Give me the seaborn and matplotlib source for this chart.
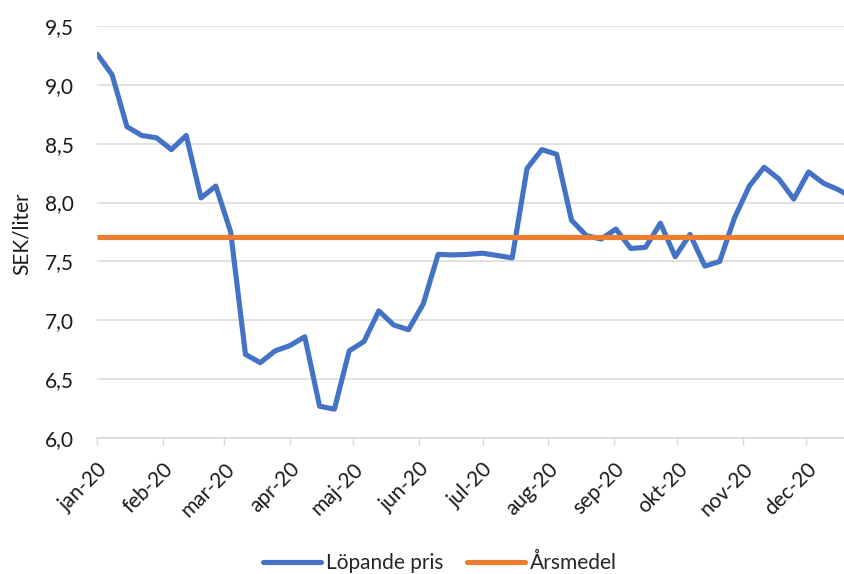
import matplotlib
matplotlib.use("Agg")
import matplotlib.pyplot as plt
import matplotlib.dates as mdates
import seaborn as sns
import pandas as pd
import numpy as np

# ---- data ----
start_date = "2020-01-01"
n_weeks = 52
lopande_pris = [9.26, 9.085, 8.645, 8.57, 8.55, 8.45, 8.57, 8.04, 8.14, 7.75,
                6.71, 6.64, 6.74, 6.785, 6.86, 6.27, 6.245, 6.74, 6.82, 7.08,
                6.96, 6.92, 7.14, 7.56, 7.555, 7.56, 7.57, 7.55, 7.53, 8.29,
                8.45, 8.41, 7.85, 7.72, 7.69, 7.775, 7.61, 7.62, 7.825, 7.54,
                7.73, 7.46, 7.50, 7.87, 8.14, 8.30, 8.20, 8.03, 8.26, 8.165,
                8.11, 8.04]
arsmedel_value = 7.71
month_labels = ["jan-20", "feb-20", "mar-20", "apr-20", "maj-20", "jun-20",
                "jul-20", "aug-20", "sep-20", "okt-20", "nov-20", "dec-20"]
y_ticks = [6.0, 6.5, 7.0, 7.5, 8.0, 8.5, 9.0, 9.5]
series_names = ["Löpande pris", "Årsmedel"]
y_label = "SEK/liter"

dates = pd.date_range(start_date, periods=n_weeks, freq="7D")
df = pd.DataFrame({
    "datum": list(dates) * 2,
    "pris": lopande_pris + [arsmedel_value] * n_weeks,
    "serie": [series_names[0]] * n_weeks + [series_names[1]] * n_weeks,
})

sns.set_theme(style="white")
plt.rcParams["font.family"] = ["Lato", "DejaVu Sans"]
FS = 15

fig = plt.figure(figsize=(8.45, 5.74), dpi=100)
ax = fig.add_axes([97.3 / 845, 136 / 574, 1 - 97.3 / 845, 412 / 574])

palette = {series_names[0]: "#4472C4", series_names[1]: "#ED7D31"}
sns.lineplot(data=df[df.serie == series_names[0]], x="datum", y="pris",
             color=palette[series_names[0]], linewidth=3.7, ax=ax,
             solid_capstyle="round", solid_joinstyle="round", zorder=3,
             label=series_names[0], legend=False)
sns.lineplot(data=df[df.serie == series_names[1]], x="datum", y="pris",
             color=palette[series_names[1]], linewidth=3.7, ax=ax,
             solid_capstyle="butt", zorder=4, label=series_names[1], legend=False)

x0 = pd.Timestamp(start_date)
ax.set_xlim(mdates.date2num(x0), mdates.date2num(x0) + 353.2)
ax.set_ylim(6.0, 9.5)

month_starts = pd.date_range(start_date, periods=12, freq="MS")
ax.set_xticks(month_starts)
ax.set_xticklabels(month_labels, rotation=45, ha="right", va="top",
                   rotation_mode="anchor", fontsize=FS, color="#1a1a1a")
ax.set_yticks(y_ticks)
ax.set_yticklabels([f"{v:.1f}".replace(".", ",") for v in y_ticks],
                   fontsize=FS, color="#1a1a1a")

ax.grid(axis="y", color="#D9D9D9", linewidth=1.1)
ax.grid(axis="x", visible=False)
for s in ["left", "right", "top"]:
    ax.spines[s].set_visible(False)
ax.spines["bottom"].set_color("#D9D9D9")
ax.spines["bottom"].set_linewidth(1.1)
ax.tick_params(axis="x", direction="out", length=5, width=1.0,
               color="#D9D9D9", pad=10, bottom=True)
ax.tick_params(axis="y", length=0, pad=17)

ax.set_xlabel("")
ax.set_ylabel(y_label, fontsize=FS, color="#1a1a1a")
ax.yaxis.set_label_coords(-0.088, 0.495)

handles = [plt.Line2D([], [], color=palette[n], linewidth=3.7,
                      solid_capstyle="round") for n in series_names]
fig.legend(handles, series_names, loc="center", ncol=2, frameon=False,
           bbox_to_anchor=(440 / 845, 11 / 574), fontsize=FS,
           handlelength=2.8, handletextpad=0.25, columnspacing=1.1)

fig.savefig("out.png", dpi=100)
